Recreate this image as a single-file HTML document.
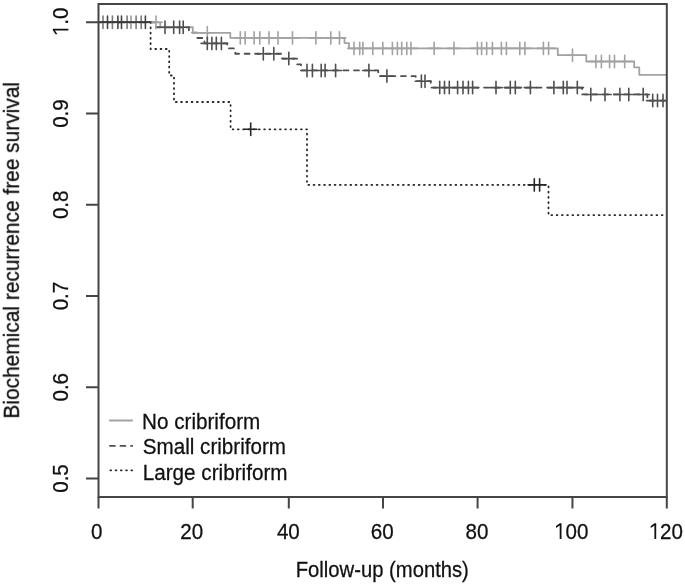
<!DOCTYPE html>
<html><head><meta charset="utf-8"><style>
html,body{margin:0;padding:0;background:#fff;}
svg{display:block;}
text{font-family:"Liberation Sans",sans-serif;font-size:20.0px;fill:#111;stroke:#111;stroke-width:0.25;}
.t path{fill:#111;stroke:#111;stroke-width:0.25;}
</style></head><body>
<svg width="685" height="584" viewBox="0 0 685 584">
<rect x="0" y="0" width="685" height="584" fill="#fff"/>
<defs><clipPath id="pc"><rect x="98.5" y="4" width="568.3" height="493"/></clipPath></defs>
<g fill="none" stroke-linecap="round" stroke-linejoin="round" clip-path="url(#pc)">
<path d="M98.50,22.30 L150.60,22.30 L150.60,49.00 L169.20,49.00 L169.20,75.50 L174.00,75.50 L174.00,102.00 L230.60,102.00 L230.60,129.30 L307.00,129.30 L307.00,184.90 L548.50,184.90 L548.50,215.10 L666.80,215.10" stroke="#262626" stroke-width="1.8" stroke-dasharray="0.8 4.454" stroke-dashoffset="0.55"/>
<path d="M98.50,22.30 L156.00,22.30 L156.00,27.27 L188.90,27.27 L188.90,32.60 L197.00,32.60 L197.00,38.00 L204.50,38.00 L204.50,43.40 L227.20,43.40 L227.20,48.40 L235.30,48.40 L235.30,53.75 L282.00,53.75 L282.00,58.60 L297.00,58.60 L297.00,64.30 L301.00,64.30 L301.00,70.47 L378.20,70.47 L378.20,76.10 L415.70,76.10 L415.70,81.16 L430.70,81.16 L430.70,87.57 L582.10,87.57 L582.10,94.47 L647.40,94.47 L647.40,100.60 L666.80,100.60" stroke="#4f4f4f" stroke-width="1.8" stroke-dasharray="4.9 5.608" stroke-dashoffset="1.023"/>
<path d="M98.50,22.30 L160.30,22.30 L160.30,27.27 L192.80,27.27 L192.80,32.78 L230.30,32.78 L230.30,37.85 L344.50,37.85 L344.50,43.10 L349.00,43.10 L349.00,48.37 L557.80,48.37 L557.80,55.20 L586.30,55.20 L586.30,61.50 L634.20,61.50 L634.20,67.40 L639.30,67.40 L639.30,74.78 L666.80,74.78" stroke="#a2a2a2" stroke-width="1.8"/>
<path d="M96.8,22.3h12.4M103.0,16.1v12.4M106.2,22.3h12.4M112.4,16.1v12.4M120.9,22.3h12.4M127.1,16.1v12.4M129.9,22.3h12.4M136.1,16.1v12.4M135.0,22.3h12.4M141.2,16.1v12.4" stroke="#7a7a7a" stroke-width="1.6"/>
<path d="M124.8,22.3h12.4M131.0,16.1v12.4" stroke="#999" stroke-width="1.6"/>
<path d="M101.3,22.3h12.4M107.5,16.1v12.4M111.7,22.3h12.4M117.9,16.1v12.4M115.3,22.3h12.4M121.5,16.1v12.4M139.2,22.3h12.4M145.4,16.1v12.4" stroke="#444" stroke-width="1.6"/>
<path d="M149.8,22.3h12.4M156.0,16.1v12.4M201.1,32.8h12.4M207.3,26.6v12.4M234.1,37.9h12.4M240.3,31.7v12.4M238.9,37.9h12.4M245.1,31.7v12.4M247.9,37.9h12.4M254.1,31.7v12.4M253.6,37.9h12.4M259.8,31.7v12.4M262.8,37.9h12.4M269.0,31.7v12.4M271.8,37.9h12.4M278.0,31.7v12.4M286.3,37.9h12.4M292.5,31.7v12.4M309.7,37.9h12.4M315.9,31.7v12.4M324.6,37.9h12.4M330.8,31.7v12.4M333.3,37.9h12.4M339.5,31.7v12.4M347.8,48.4h12.4M354.0,42.2v12.4M353.5,48.4h12.4M359.7,42.2v12.4M356.7,48.4h12.4M362.9,42.2v12.4M366.6,48.4h12.4M372.8,42.2v12.4M376.6,48.4h12.4M382.8,42.2v12.4M386.2,48.4h12.4M392.4,42.2v12.4M391.2,48.4h12.4M397.4,42.2v12.4M395.5,48.4h12.4M401.7,42.2v12.4M400.6,48.4h12.4M406.8,42.2v12.4M404.8,48.4h12.4M411.0,42.2v12.4M427.9,48.4h12.4M434.1,42.2v12.4M447.8,48.4h12.4M454.0,42.2v12.4M471.2,48.4h12.4M477.4,42.2v12.4M475.4,48.4h12.4M481.6,42.2v12.4M480.5,48.4h12.4M486.7,42.2v12.4M486.2,48.4h12.4M492.4,42.2v12.4M495.2,48.4h12.4M501.4,42.2v12.4M500.2,48.4h12.4M506.4,42.2v12.4M513.6,48.4h12.4M519.8,42.2v12.4M518.7,48.4h12.4M524.9,42.2v12.4M537.2,48.4h12.4M543.4,42.2v12.4M542.4,48.4h12.4M548.6,42.2v12.4M566.3,55.2h12.4M572.5,49.0v12.4M589.7,61.5h12.4M595.9,55.3v12.4M595.2,61.5h12.4M601.4,55.3v12.4M603.4,61.5h12.4M609.6,55.3v12.4M608.3,61.5h12.4M614.5,55.3v12.4M618.5,61.5h12.4M624.7,55.3v12.4" stroke="#a2a2a2" stroke-width="1.6"/>
<path d="M158.8,27.3h12.4M165.0,21.1v12.4M167.5,27.3h12.4M173.7,21.1v12.4M173.4,27.3h12.4M179.6,21.1v12.4M177.0,27.3h12.4M183.2,21.1v12.4M201.1,43.4h12.4M207.3,37.2v12.4M205.7,43.4h12.4M211.9,37.2v12.4M210.1,43.4h12.4M216.3,37.2v12.4M215.2,43.4h12.4M221.4,37.2v12.4M257.1,53.8h12.4M263.3,47.5v12.4M267.6,53.8h12.4M273.8,47.5v12.4M282.6,58.6h12.4M288.8,52.4v12.4M300.8,70.5h12.4M307.0,64.3v12.4M306.2,70.5h12.4M312.4,64.3v12.4M315.0,70.5h12.4M321.2,64.3v12.4M318.9,70.5h12.4M325.1,64.3v12.4M329.4,70.5h12.4M335.6,64.3v12.4M362.7,70.5h12.4M368.9,64.3v12.4M380.7,76.1h12.4M386.9,69.9v12.4M415.2,81.2h12.4M421.4,75.0v12.4M418.8,81.2h12.4M425.0,75.0v12.4M433.5,87.6h12.4M439.7,81.4v12.4M438.3,87.6h12.4M444.5,81.4v12.4M443.1,87.6h12.4M449.3,81.4v12.4M451.4,87.6h12.4M457.6,81.4v12.4M456.8,87.6h12.4M463.0,81.4v12.4M462.2,87.6h12.4M468.4,81.4v12.4M466.4,87.6h12.4M472.6,81.4v12.4M489.8,87.6h12.4M496.0,81.4v12.4M504.1,87.6h12.4M510.3,81.4v12.4M509.1,87.6h12.4M515.3,81.4v12.4M524.2,87.6h12.4M530.4,81.4v12.4M547.7,87.6h12.4M553.9,81.4v12.4M557.1,87.6h12.4M563.3,81.4v12.4M560.8,87.6h12.4M567.0,81.4v12.4M571.1,87.6h12.4M577.3,81.4v12.4M584.6,94.5h12.4M590.8,88.3v12.4M598.8,94.5h12.4M605.0,88.3v12.4M613.7,94.5h12.4M619.9,88.3v12.4M622.6,94.5h12.4M628.8,88.3v12.4M637.0,94.5h12.4M643.2,88.3v12.4M646.5,100.6h12.4M652.7,94.4v12.4M651.3,100.6h12.4M657.5,94.4v12.4M656.8,100.6h12.4M663.0,94.4v12.4" stroke="#4f4f4f" stroke-width="1.6"/>
<path d="M244.5,129.3h12.4M250.7,123.1v12.4M528.1,184.9h12.4M534.3,178.7v12.4M533.4,184.9h12.4M539.6,178.7v12.4" stroke="#262626" stroke-width="1.6"/>
<path d="M98.5,22.2H150.6" stroke="#383838" stroke-width="1.7"/>
<path d="M109.8,420.5H132.2" stroke="#a2a2a2" stroke-width="1.8"/>
<path d="M109.8,445.95H132.2" stroke="#4f4f4f" stroke-width="1.8" stroke-dasharray="4.9 5.608" stroke-dashoffset="-0.177"/>
<path d="M109.8,470.3H132.2" stroke="#262626" stroke-width="1.8" stroke-dasharray="0.8 4.454" stroke-dashoffset="-0.55"/>
</g>
<g fill="none" stroke="#454545" stroke-width="2.0">
<rect x="98.5" y="4.0" width="568.3" height="493.0"/>
<path d="M98.50,497V508.5M192.70,497V508.5M288.80,497V508.5M383.00,497V508.5M477.60,497V508.5M572.45,497V508.5M666.80,497V508.5M86,22.3H98.5M86,113.5H98.5M86,204.8H98.5M86,296.0H98.5M86,387.3H98.5M86,478.5H98.5"/>
</g>
<g class="t" style="filter:grayscale(1)">
<g transform="translate(96.80,538.90)"><text transform="translate(-5.73,0) scale(1.03,1.13)">0</text></g><g transform="translate(191.75,538.90)"><text transform="translate(-11.46,0) scale(1.03,1.13)">2</text><text transform="translate(0.00,0) scale(1.03,1.13)">0</text></g><g transform="translate(288.35,538.90)"><text transform="translate(-11.46,0) scale(1.03,1.13)">4</text><text transform="translate(0.00,0) scale(1.03,1.13)">0</text></g><g transform="translate(382.15,538.90)"><text transform="translate(-11.46,0) scale(1.03,1.13)">6</text><text transform="translate(0.00,0) scale(1.03,1.13)">0</text></g><g transform="translate(476.90,538.90)"><text transform="translate(-11.46,0) scale(1.03,1.13)">8</text><text transform="translate(0.00,0) scale(1.03,1.13)">0</text></g><g transform="translate(571.15,538.90)"><path d="M570,0L570,1220L205,990L205,1165L585,1409L750,1409L750,0Z" transform="translate(-17.19,0) scale(0.01006,-0.01104)"/><text transform="translate(-5.73,0) scale(1.03,1.13)">0</text><text transform="translate(5.73,0) scale(1.03,1.13)">0</text></g><g transform="translate(665.85,538.90)"><path d="M570,0L570,1220L205,990L205,1165L585,1409L750,1409L750,0Z" transform="translate(-17.19,0) scale(0.01006,-0.01104)"/><text transform="translate(-5.73,0) scale(1.03,1.13)">2</text><text transform="translate(5.73,0) scale(1.03,1.13)">0</text></g>
<g transform="translate(68.40,21.90) rotate(-90)"><path d="M570,0L570,1220L205,990L205,1165L585,1409L750,1409L750,0Z" transform="translate(-14.32,0) scale(0.01006,-0.01104)"/><text transform="translate(-2.86,0) scale(1.03,1.13)">.</text><text transform="translate(2.86,0) scale(1.03,1.13)">0</text></g><g transform="translate(68.40,113.54) rotate(-90)"><text transform="translate(-14.32,0) scale(1.03,1.13)">0</text><text transform="translate(-2.86,0) scale(1.03,1.13)">.</text><text transform="translate(2.86,0) scale(1.03,1.13)">9</text></g><g transform="translate(68.40,204.78) rotate(-90)"><text transform="translate(-14.32,0) scale(1.03,1.13)">0</text><text transform="translate(-2.86,0) scale(1.03,1.13)">.</text><text transform="translate(2.86,0) scale(1.03,1.13)">8</text></g><g transform="translate(68.40,296.02) rotate(-90)"><text transform="translate(-14.32,0) scale(1.03,1.13)">0</text><text transform="translate(-2.86,0) scale(1.03,1.13)">.</text><text transform="translate(2.86,0) scale(1.03,1.13)">7</text></g><g transform="translate(68.40,387.26) rotate(-90)"><text transform="translate(-14.32,0) scale(1.03,1.13)">0</text><text transform="translate(-2.86,0) scale(1.03,1.13)">.</text><text transform="translate(2.86,0) scale(1.03,1.13)">6</text></g><g transform="translate(68.40,478.50) rotate(-90)"><text transform="translate(-14.32,0) scale(1.03,1.13)">0</text><text transform="translate(-2.86,0) scale(1.03,1.13)">.</text><text transform="translate(2.86,0) scale(1.03,1.13)">5</text></g>
<text transform="translate(382.30,576.80) scale(1.012,1.13)" text-anchor="middle">Follow-up (months)</text>
<text transform="translate(18.50,250.30) rotate(-90) scale(1.045,1.13)" text-anchor="middle">Biochemical recurrence free survival</text>
<text transform="translate(142.00,428.70) scale(1.034,1.13)" text-anchor="start">No cribriform</text>
<text transform="translate(142.80,454.30) scale(1.031,1.13)" text-anchor="start">Small cribriform</text>
<text transform="translate(142.70,479.80) scale(1.035,1.13)" text-anchor="start">Large cribriform</text>
</g>
</svg>
</body></html>
